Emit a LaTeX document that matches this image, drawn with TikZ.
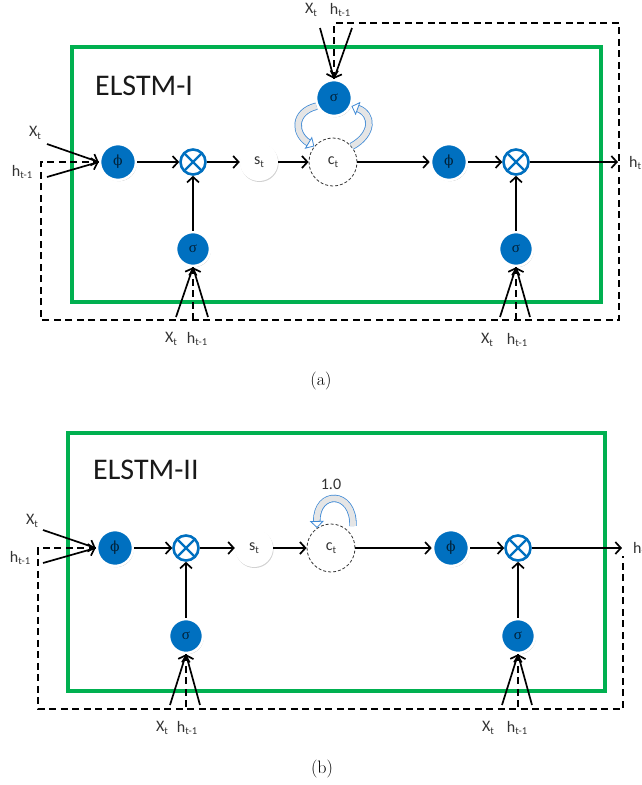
\documentclass[tikz,border=0pt]{standalone}
\usepackage{fontspec}
\newfontfamily\calf{Carlito}
\newfontfamily\grkf{Liberation Serif}
\newfontfamily\phif{DejaVu Serif}
\usetikzlibrary{arrows.meta,shadows}
\definecolor{eblue}{HTML}{0070C0}
\definecolor{egreen}{HTML}{00B050}
\definecolor{ebl2}{HTML}{3F8AD6}
\newcommand\sbt[1]{\raisebox{-0.35ex}{\fontsize{10.5}{10.5}\selectfont #1}}
\newcommand\blkarrow[1]{%
  \draw[ebl2, line width=7.4pt, shorten >=6.5pt] #1;
  \draw[gray!20, line width=5.8pt, -{Triangle[color=ebl2, fill=white, line width=0.8pt, length=7pt, width=14pt]}] #1;
}
\tikzset{
  lbl/.style={font=\calf\fontsize{16}{18}\selectfont, text=black!80, inner sep=0pt},
  bluenode/.style={circle, fill=eblue, draw=white, line width=2.6pt, minimum size=36pt, inner sep=0pt,
    drop shadow={shadow xshift=0.8pt, shadow yshift=-1.2pt, opacity=0.3, fill=black},
    text=black!70!eblue},
  sgnode/.style={bluenode, font=\grkf\fontsize{15}{15}\selectfont},
  phinode/.style={bluenode, font=\phif\fontsize{14}{14}\selectfont},
  otnode/.style={circle, draw=eblue, line width=2.6pt, fill=white, minimum size=25pt, inner sep=0pt,
    drop shadow={shadow xshift=0.6pt, shadow yshift=-1pt, opacity=0.25, fill=black},
    path picture={\draw[eblue, line width=2.4pt]
      (path picture bounding box.north west) -- (path picture bounding box.south east)
      (path picture bounding box.north east) -- (path picture bounding box.south west);}},
  stnode/.style={circle, fill=white, minimum size=38pt, inner sep=0pt,
    drop shadow={shadow xshift=0.6pt, shadow yshift=-1pt, opacity=0.18, fill=black},
    font=\calf\fontsize{16}{16}\selectfont, text=black!80},
  ctnode/.style={circle, draw=black!80, dash pattern=on 3pt off 2pt, line width=0.8pt, fill=white,
    minimum size=48pt, inner sep=0pt, font=\calf\fontsize{16}{16}\selectfont, text=black!80},
  arr/.style={line width=1.7pt, -{Straight Barb[length=5.5pt,width=12pt]}},
  dsh/.style={line width=1.8pt, dash pattern=on 7pt off 4.5pt},
  frame/.style={draw=egreen, line width=3.8pt},
  ttl/.style={font=\calf\fontsize{30}{30}\selectfont, text=black!90, anchor=west, inner sep=0pt},
  capt/.style={font=\rmfamily\fontsize{18}{18}\selectfont, inner sep=0pt}
}
\begin{document}
\begin{tikzpicture}[x=1pt,y=-1pt]
\useasboundingbox (0,0) rectangle (641,785);

% ================= panel (a) =================
\draw[frame] (72,47) rectangle (601,302);
\node[ttl] (tA) at (95,86) {ELSTM-I};

\node[phinode] (phiA1) at (118,162) {ϕ};
\node[otnode] (otA1) at (193,162) {};
\node[stnode] (stA) at (259,162) {s\sbt{t}};
\node[ctnode] (ctA) at (333,162) {c\sbt{t}};
\node[sgnode] (sgT) at (334,98) {σ};
\node[phinode] (phiA2) at (449,162) {ϕ};
\node[otnode] (otA2) at (516,162) {};
\node[sgnode, minimum size=34pt] (sgA1) at (193,249) {σ};
\node[sgnode, minimum size=34pt] (sgA2) at (516,249) {σ};
\coordinate (hA) at (618,162);
\node[lbl, anchor=west] (hAl) at (629,163) {h\sbt{t}};

\node[lbl] (xA0) at (35,133) {X\sbt{t}};
\node[lbl] (hA0) at (22,172) {h\sbt{t-1}};
\coordinate (xA0s) at (47,144);
\coordinate (hA0s) at (47,177);
\node[lbl] (xT) at (311,10) {X\sbt{t}};
\node[lbl] (hT) at (340,10) {h\sbt{t-1}};
\coordinate (xTs) at (320,28);
\coordinate (hTs) at (352,28);
\node[lbl] (xB1) at (171,339) {X\sbt{t}};
\node[lbl] (hB1) at (197,339) {h\sbt{t-1}};
\coordinate (xB1s) at (176,317);
\coordinate (hB1s) at (208,317);
\node[lbl] (xB2) at (487,340) {X\sbt{t}};
\node[lbl] (hB2) at (517,340) {h\sbt{t-1}};
\coordinate (xB2s) at (500,317);
\coordinate (hB2s) at (530,317);

\coordinate (dTR) at (619,23);
\coordinate (dBR) at (619,320);
\coordinate (dBL) at (41,320);
\draw[dsh] (sgT.north) -- (sgT.north |- dTR) -- (dTR) -- (dBR) -- (dBL) -- (dBL |- phiA1.west) -- (phiA1.west);
\draw[dsh] (sgA1.south) -- (sgA1.south |- dBL);
\draw[dsh] (sgA2.south) -- (sgA2.south |- dBL);

\draw[arr] (phiA1) -- (otA1);
\draw[arr] (otA1) -- (stA);
\draw[arr] (stA) -- (ctA);
\draw[arr] (ctA) -- (phiA2);
\draw[arr] (phiA2) -- (otA2);
\draw[arr] (otA2) -- (hA);
\draw[arr] (sgA1) -- (otA1);
\draw[arr] (sgA2) -- (otA2);
\draw[arr] (xA0s) -- (phiA1.west);
\draw[arr] (hA0s) -- (phiA1.west);
\draw[arr] (xTs) -- (sgT.north);
\draw[arr] (hTs) -- (sgT.north);
\draw[arr] (xB1s) -- (sgA1.south);
\draw[arr] (hB1s) -- (sgA1.south);
\draw[arr] (xB2s) -- (sgA2.south);
\draw[arr] (hB2s) -- (sgA2.south);

\blkarrow{(sgT.205) .. controls +(-24,6) and +(-20,-12) .. (ctA.140)}
\blkarrow{(ctA.40) .. controls +(22,-12) and +(22,8) .. (sgT.-25)}

\node[capt] (capA) at (321,381) {(a)};

% ================= panel (b) =================
\draw[frame] (68,433) rectangle (605,691);
\node[ttl] (tB) at (93,470) {ELSTM-II};

\node[phinode] (phiB1) at (115,548) {ϕ};
\node[otnode] (otB1) at (186,548) {};
\node[stnode] (stB) at (254,548) {s\sbt{t}};
\node[ctnode] (ctB) at (331,548) {c\sbt{t}};
\node[phinode] (phiB2) at (451,548) {ϕ};
\node[otnode] (otB2) at (518,548) {};
\node[sgnode, minimum size=34pt] (sgB1) at (186,636) {σ};
\node[sgnode, minimum size=34pt] (sgB2) at (518,636) {σ};
\coordinate (hB) at (622,548);
\node[lbl, anchor=west] (hBl) at (633,549) {h\sbt{t}};

\node[lbl] (xC0) at (32,521) {X\sbt{t}};
\node[lbl] (hC0) at (20,558) {h\sbt{t-1}};
\coordinate (xC0s) at (43,530);
\coordinate (hC0s) at (43,563);
\node[lbl] (xD1) at (162,728) {X\sbt{t}};
\node[lbl] (hD1) at (187,728) {h\sbt{t-1}};
\coordinate (xD1s) at (170,705);
\coordinate (hD1s) at (200,705);
\node[lbl] (xD2) at (488,728) {X\sbt{t}};
\node[lbl] (hD2) at (517,728) {h\sbt{t-1}};
\coordinate (xD2s) at (502,705);
\coordinate (hD2s) at (532,705);

\coordinate (eBL) at (38,709);
\coordinate (eBR) at (623,709);
\coordinate (eRT) at (623,556);
\draw[dsh] (phiB1.west) -- (phiB1.west -| eBL) -- (eBL) -- (eBR) -- (eRT);
\draw[dsh] (sgB1.south) -- (sgB1.south |- eBL);
\draw[dsh] (sgB2.south) -- (sgB2.south |- eBL);

\draw[arr] (phiB1) -- (otB1);
\draw[arr] (otB1) -- (stB);
\draw[arr] (stB) -- (ctB);
\draw[arr] (ctB) -- (phiB2);
\draw[arr] (phiB2) -- (otB2);
\draw[arr] (otB2) -- (hB);
\draw[arr] (sgB1) -- (otB1);
\draw[arr] (sgB2) -- (otB2);
\draw[arr] (xC0s) -- (phiB1.west);
\draw[arr] (hC0s) -- (phiB1.west);
\draw[arr] (xD1s) -- (sgB1.south);
\draw[arr] (hD1s) -- (sgB1.south);
\draw[arr] (xD2s) -- (sgB2.south);
\draw[arr] (hD2s) -- (sgB2.south);

\coordinate (cbt) at (353,526);
\blkarrow{(cbt) .. controls (354,490) and (316,490) .. (ctB.125)}
\node[font=\calf\fontsize{16}{16}\selectfont, text=black!80, inner sep=0pt] (one) at (331,484) {1.0};

\node[capt] (capB) at (322,769) {(b)};
\end{tikzpicture}
\end{document}
